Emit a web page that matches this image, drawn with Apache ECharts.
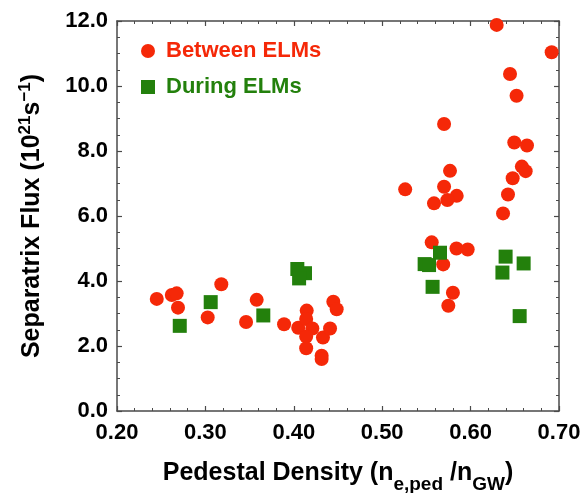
<!DOCTYPE html>
<html>
<head>
<meta charset="utf-8">
<script src="https://cdn.jsdelivr.net/npm/echarts@6/dist/echarts.min.js"></script>
<style>
html,body{margin:0;padding:0;background:#fff;}
#c{width:587px;height:493px;}
</style>
</head>
<body>
<div id="c"></div>
<script>
// Pedestal density (x) and separatrix flux (y)
var betweenELMs = [
  [0.245,3.45],[0.262,3.57],[0.2675,3.62],[0.269,3.18],[0.318,3.90],[0.3026,2.88],
  [0.358,3.42],[0.346,2.74],[0.389,2.67],[0.405,2.56],[0.4146,3.09],[0.414,2.83],
  [0.421,2.54],[0.414,2.29],[0.414,1.93],[0.433,2.26],[0.441,2.54],[0.4315,1.70],
  [0.4315,1.60],[0.4447,3.36],[0.4485,3.13],
  [0.526,6.82],[0.570,8.83],[0.5767,7.39],[0.570,6.90],[0.5843,6.62],[0.5737,6.49],
  [0.5586,6.39],[0.556,5.19],[0.584,5.00],[0.5967,4.97],[0.569,4.51],[0.580,3.64],
  [0.5748,3.24],
  [0.6295,11.88],[0.6917,11.04],[0.6446,10.37],[0.652,9.70],[0.6494,8.26],[0.6638,8.17],
  [0.658,7.52],[0.6623,7.38],[0.6476,7.16],[0.6423,6.66],[0.6367,6.08]
];
var duringELMs = [
  [0.271,2.62],[0.306,3.35],[0.3655,2.94],[0.404,4.37],[0.4127,4.24],[0.406,4.08],
  [0.548,4.52],[0.553,4.49],[0.5654,4.87],[0.557,3.82],[0.6396,4.75],[0.636,4.26],
  [0.660,4.54],[0.6555,2.92]
];
var seriesNames = ['Between ELMs', 'During ELMs'];
var xRange = [0.2, 0.7, 0.1];
var yRange = [0, 12, 2];

var RED = '#f52808';
var GREEN = '#23800c';
var FONT = '"Liberation Sans", Arial, Helvetica, sans-serif';
var AXC = '#4a4a4a';

function xAx(pos, labels) {
  return {
    type: 'value', position: pos, min: xRange[0], max: xRange[1], interval: xRange[2],
    axisLine: {show: true, onZero: false, lineStyle: {color: AXC, width: 1.5}},
    axisTick: {show: true, inside: true, length: 5, lineStyle: {color: AXC, width: 1.2}},
    minorTick: {show: true, splitNumber: 5, length: 3, lineStyle: {color: AXC, width: 1}},
    splitLine: {show: false},
    axisLabel: {show: labels, margin: 11, fontSize: 22, fontWeight: 'bold', color: '#000', fontFamily: FONT,
      formatter: function (v) { return v.toFixed(2); }},
    name: labels ? '{m|Pedestal Density (n}{sub|e,ped}{m| /n}{sub|GW}{m|)}' : '',
    nameLocation: 'middle', nameGap: 47,
    nameTextStyle: {
      rich: {
        m: {fontSize: 25, fontWeight: 'bold', color: '#000', fontFamily: FONT, lineHeight: 30},
        sub: {fontSize: 19, fontWeight: 'bold', color: '#000', fontFamily: FONT, verticalAlign: 'bottom', lineHeight: 19, padding: [0,0,-6,0]}
      }
    }
  };
}
function yAx(pos, labels) {
  return {
    type: 'value', position: pos, min: yRange[0], max: yRange[1], interval: yRange[2],
    axisLine: {show: true, onZero: false, lineStyle: {color: AXC, width: 1.5}},
    axisTick: {show: true, inside: true, length: 5, lineStyle: {color: AXC, width: 1.2}},
    minorTick: {show: true, splitNumber: 4, length: 3, lineStyle: {color: AXC, width: 1}},
    splitLine: {show: false},
    axisLabel: {show: labels, margin: 9, fontSize: 22, fontWeight: 'bold', color: '#000', fontFamily: FONT,
      formatter: function (v) { return v.toFixed(1); }},
    name: labels ? '{m|Separatrix Flux (10}{sup|21}{m|s}{sup|\u22121}{m|)}' : '',
    nameLocation: 'middle', nameGap: 70, nameRotate: 90,
    nameTextStyle: {
      rich: {
        m: {fontSize: 25, fontWeight: 'bold', color: '#000', fontFamily: FONT, lineHeight: 30},
        sup: {fontSize: 17, fontWeight: 'bold', color: '#000', fontFamily: FONT, verticalAlign: 'top', lineHeight: 17, padding: [0,0,8,0]}
      }
    }
  };
}

var chart = echarts.init(document.getElementById('c'), null, {renderer: 'canvas'});
chart.setOption({
  animation: false,
  backgroundColor: '#fff',
  grid: {left: 117, right: 28, top: 21, bottom: 82, containLabel: false, outerBoundsMode: 'none'},
  xAxis: [xAx('bottom', true), xAx('top', false)],
  yAxis: [yAx('left', true), yAx('right', false)],
  legend: {
    orient: 'vertical', left: 136, top: 35, itemWidth: 14, itemHeight: 14, itemGap: 14,
    data: [
      {name: seriesNames[0], icon: 'circle', textStyle: {color: RED}},
      {name: seriesNames[1], icon: 'rect', textStyle: {color: GREEN}}
    ],
    textStyle: {fontSize: 22, fontWeight: 'bold', fontFamily: FONT, padding: [0,0,0,6]}
  },
  series: [
    {name: seriesNames[0], type: 'scatter', xAxisIndex: 0, yAxisIndex: 0, symbol: 'circle', symbolSize: 14,
      itemStyle: {color: RED, opacity: 1}, data: betweenELMs, z: 2},
    {name: seriesNames[1], type: 'scatter', xAxisIndex: 0, yAxisIndex: 0, symbol: 'rect', symbolSize: 14,
      itemStyle: {color: GREEN, opacity: 1}, data: duringELMs, z: 3}
  ]
});
</script>
</body>
</html>
